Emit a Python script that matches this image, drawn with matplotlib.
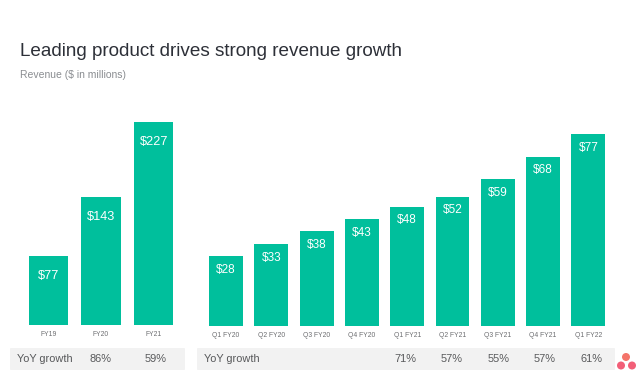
"""Revenue bars: annual on the left, quarterly on the right, YoY strip below."""
import matplotlib
matplotlib.use("Agg")
import matplotlib.pyplot as plt
import matplotlib.patches as mpatches

plt.rcParams['font.family'] = ['Liberation Sans', 'DejaVu Sans']

years = ['FY19', 'FY20', 'FY21']
year_revenue = [77, 143, 227]
year_growth = ['86%', '59%']

quarters = ['Q1 FY20', 'Q2 FY20', 'Q3 FY20', 'Q4 FY20', 'Q1 FY21',
            'Q2 FY21', 'Q3 FY21', 'Q4 FY21', 'Q1 FY22']
quarter_revenue = [28, 33, 38, 43, 48, 52, 59, 68, 77]
quarter_growth = ['71%', '57%', '55%', '57%', '61%']

W, H = 640, 386
GREEN = '#00bf9c'
STRIP = '#f2f2f2'
TEXT = '#58595b'


def px_axes(fig, left, top, right, bottom):
    return fig.add_axes([left / W, 1 - bottom / H, (right - left) / W, (bottom - top) / H])


def draw_bars(ax, labels, values, ymax, fontsize, label_drop):
    xs = list(range(len(labels)))
    bars = ax.bar(xs, values, width=0.75, color=GREEN)
    ax.set_xlim(-0.5, len(labels) - 0.5)
    ax.set_ylim(0, ymax)
    ax.set_xticks(xs, labels)
    ax.tick_params(axis='x', length=0, labelsize=4.9, labelcolor='#6d6e71', pad=4)
    ax.set_yticks([])
    for s in ax.spines.values():
        s.set_visible(False)
    ax.patch.set_alpha(0)
    for b, v in zip(bars, values):
        ax.annotate(f'${v}', (b.get_x() + b.get_width() / 2, v), xytext=(0, -label_drop),
                    textcoords='offset points', ha='center', va='top',
                    color='white', fontsize=fontsize)


fig = plt.figure(figsize=(W / 100, H / 100), dpi=100, facecolor='white')

# full-figure overlay in pixel coordinates for title, strips and logo
bg = fig.add_axes([0, 0, 1, 1])
bg.set_xlim(0, W)
bg.set_ylim(H, 0)
bg.axis('off')

bg.text(20, 52, 'Leading product drives strong revenue growth', fontsize=13.6,
        color='#2d3038', va='center')
bg.text(20, 75, 'Revenue ($ in millions)', fontsize=7.5, color='#8a8d91', va='center')

for x0, x1 in [(10, 185), (197, 615)]:
    bg.add_patch(mpatches.FancyBboxPatch((x0 + 1, 349), x1 - x0 - 2, 20,
                                         boxstyle='round,pad=1', fc=STRIP, ec='none'))

bg.text(17, 359, 'YoY growth', fontsize=7.9, color=TEXT, va='center')
for x, g in zip([101, 156], year_growth):
    bg.text(x, 359, g, fontsize=7.9, color=TEXT, va='center', ha='center')

bg.text(204, 359, 'YoY growth', fontsize=7.9, color=TEXT, va='center')
for x, g in zip([405.5, 452, 498.5, 545, 591.5], quarter_growth):
    bg.text(x, 359, g, fontsize=7.9, color=TEXT, va='center', ha='center')

for (cx, cy), c in zip([(626, 357), (621, 365.5), (632, 365.5)],
                       ['#f4746a', '#f25f78', '#f25f78']):
    bg.add_patch(mpatches.Ellipse((cx, cy), 8, 8, fc=c, ec='none'))

ax1 = px_axes(fig, 22, 101.5, 180, 325)
draw_bars(ax1, years, year_revenue, 250, 9.2, 10)

ax2 = px_axes(fig, 203.4, 102, 611, 326)
draw_bars(ax2, quarters, quarter_revenue, 90, 8.5, 5.5)

fig.savefig('out.png', dpi=100)
